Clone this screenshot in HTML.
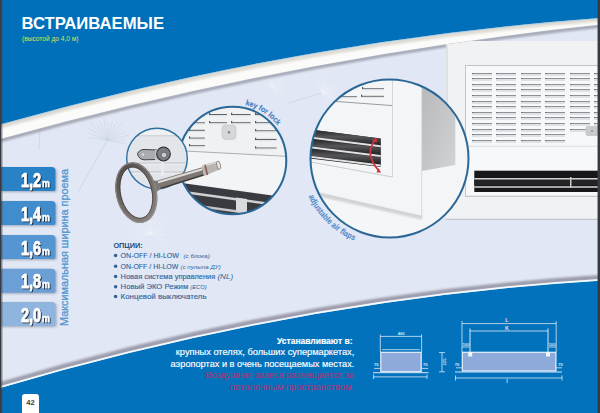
<!DOCTYPE html>
<html><head><meta charset="utf-8">
<style>
html,body{margin:0;padding:0;width:600px;height:413px;overflow:hidden;background:#e2e7f3}
svg{display:block;font-family:"Liberation Sans",sans-serif}
</style></head>
<body>
<svg width="600" height="413" viewBox="0 0 600 413">
<defs>
  <filter id="blur1" x="-10%" y="-50%" width="120%" height="200%"><feGaussianBlur stdDeviation="2"/></filter>
  <filter id="blurS" x="-5%" y="-50%" width="110%" height="200%"><feGaussianBlur stdDeviation="1.3"/></filter>
  <filter id="blur05"><feGaussianBlur stdDeviation="0.5"/></filter>
  <filter id="tsh" x="-20%" y="-20%" width="150%" height="150%"><feDropShadow dx="1" dy="1" stdDeviation="0.5" flood-color="#142236" flood-opacity="0.9"/></filter>
  <filter id="tabsh" x="-10%" y="-20%" width="130%" height="150%"><feDropShadow dx="1.2" dy="1" stdDeviation="0.8" flood-color="#606a80" flood-opacity="0.5"/></filter>
  <linearGradient id="sideGrey" x1="0" y1="0" x2="1" y2="1">
    <stop offset="0" stop-color="#b6b7b9"/><stop offset="1" stop-color="#d2d3d5"/>
  </linearGradient>
  <linearGradient id="keyMetal" x1="0" y1="0" x2="1" y2="1">
    <stop offset="0" stop-color="#8a8a88"/><stop offset="0.5" stop-color="#4a4846"/><stop offset="1" stop-color="#9a9896"/>
  </linearGradient>
  <clipPath id="cR"><circle cx="389.5" cy="158.5" r="79"/></clipPath>
  <clipPath id="cM"><circle cx="232.5" cy="160.5" r="53.8"/></clipPath>
  <clipPath id="cS"><circle cx="157" cy="158" r="30.5"/></clipPath>
  <clipPath id="cP"><rect x="446" y="41" width="154" height="179"/></clipPath>
  <clipPath id="cBelow"><path d="M0,139.5 Q300,56.5 600,25 L600,413 L0,413 Z"/></clipPath>
</defs>

<rect x="0" y="0" width="600" height="413" fill="#e1e7f4"/>
<g stroke="#b9c7de" stroke-width="0.6" opacity="0.8"><line x1="77.7" y1="192.8" x2="107" y2="140.5"/><line x1="289" y1="103" x2="322" y2="92.6"/><line x1="40" y1="128" x2="39" y2="150"/></g>
<g stroke="#bccadf" stroke-width="0.5" fill="none" opacity="0.75">
<line x1="107.0" y1="140.5" x2="89.3" y2="137.4"/>
<line x1="107.0" y1="140.5" x2="88.5" y2="133.0"/>
<line x1="107.0" y1="140.5" x2="88.8" y2="128.2"/>
<line x1="107.0" y1="140.5" x2="90.3" y2="123.2"/>
<line x1="107.0" y1="140.5" x2="96.9" y2="124.4"/>
<line x1="107.0" y1="140.5" x2="99.8" y2="120.8"/>
<line x1="107.0" y1="140.5" x2="103.8" y2="117.7"/>
<line x1="107.0" y1="140.5" x2="108.3" y2="122.5"/>
<line x1="107.0" y1="140.5" x2="112.5" y2="121.3"/>
<line x1="107.0" y1="140.5" x2="117.3" y2="121.1"/>
<line x1="107.0" y1="140.5" x2="122.4" y2="122.1"/>
<line x1="107.0" y1="140.5" x2="122.0" y2="128.8"/>
<line x1="107.0" y1="140.5" x2="125.9" y2="131.3"/>
<line x1="107.0" y1="140.5" x2="129.3" y2="134.9"/>
<line x1="107.0" y1="140.5" x2="125.0" y2="139.9"/>
<line x1="107.0" y1="140.5" x2="126.7" y2="144.0"/>
</g>
<g stroke="#f4f7fc" stroke-width="0.5" fill="none" opacity="0.8">
<line x1="322.0" y1="92.6" x2="316.4" y2="82.9"/>
<line x1="322.0" y1="92.6" x2="319.1" y2="80.5"/>
<line x1="322.0" y1="92.6" x2="322.7" y2="78.9"/>
<line x1="322.0" y1="92.6" x2="326.9" y2="78.4"/>
<line x1="322.0" y1="92.6" x2="328.9" y2="82.9"/>
<line x1="322.0" y1="92.6" x2="332.3" y2="84.5"/>
<line x1="322.0" y1="92.6" x2="335.3" y2="87.3"/>
<line x1="322.0" y1="92.6" x2="333.2" y2="91.5"/>
<line x1="322.0" y1="92.6" x2="334.3" y2="95.0"/>
<line x1="322.0" y1="92.6" x2="334.2" y2="98.9"/>
<line x1="322.0" y1="92.6" x2="332.9" y2="103.0"/>
<line x1="322.0" y1="92.6" x2="327.9" y2="102.9"/>
</g>
<g stroke="#f4f7fc" stroke-width="0.5" fill="none" opacity="0.7">
<line x1="272.0" y1="87.0" x2="262.8" y2="83.7"/>
<line x1="272.0" y1="87.0" x2="263.7" y2="80.0"/>
<line x1="272.0" y1="87.0" x2="266.0" y2="76.7"/>
<line x1="272.0" y1="87.0" x2="269.7" y2="74.2"/>
<line x1="272.0" y1="87.0" x2="273.8" y2="76.9"/>
<line x1="272.0" y1="87.0" x2="277.7" y2="77.1"/>
<line x1="272.0" y1="87.0" x2="281.5" y2="79.0"/>
<line x1="272.0" y1="87.0" x2="281.2" y2="83.7"/>
<line x1="272.0" y1="87.0" x2="282.8" y2="87.0"/>
<line x1="272.0" y1="87.0" x2="283.2" y2="91.1"/>
<line x1="272.0" y1="87.0" x2="282.0" y2="95.4"/>
<line x1="272.0" y1="87.0" x2="277.1" y2="95.9"/>
</g>
<g stroke="#f6f8fc" stroke-width="0.5" fill="none" opacity="0.7">
<line x1="150.0" y1="234.0" x2="137.3" y2="238.6"/>
<line x1="150.0" y1="234.0" x2="135.0" y2="234.8"/>
<line x1="150.0" y1="234.0" x2="134.0" y2="230.1"/>
<line x1="150.0" y1="234.0" x2="134.5" y2="224.8"/>
<line x1="150.0" y1="234.0" x2="140.4" y2="223.5"/>
<line x1="150.0" y1="234.0" x2="143.2" y2="219.8"/>
<line x1="150.0" y1="234.0" x2="147.5" y2="216.9"/>
<line x1="150.0" y1="234.0" x2="152.0" y2="220.6"/>
<line x1="150.0" y1="234.0" x2="156.4" y2="220.4"/>
<line x1="150.0" y1="234.0" x2="161.1" y2="221.8"/>
<line x1="150.0" y1="234.0" x2="165.5" y2="224.8"/>
<line x1="150.0" y1="234.0" x2="163.8" y2="230.6"/>
<line x1="150.0" y1="234.0" x2="165.7" y2="234.8"/>
<line x1="150.0" y1="234.0" x2="166.2" y2="239.9"/>
</g>
<clipPath id="stripeClip"><path d="M0,122 Q300,38 600,16 L600,24.6 Q300,56 0,139 Z"/></clipPath>
<path d="M0,140.5 Q300,57.5 600,26" fill="none" stroke="#8c8d9b" stroke-width="3.5" opacity="0.75" filter="url(#blurS)"/>
<path d="M0,122 Q300,38 600,16 L600,24.6 Q300,56 0,139 Z" fill="#fbfbf9"/>
<g clip-path="url(#stripeClip)"><path d="M0,126.5 Q300,42.5 600,19.5" fill="none" stroke="#cfcac0" stroke-width="4" opacity="0.7" filter="url(#blurS)"/></g>
<path d="M0,0 L600,0 L600,18 Q300,39.7 0,124.6 Z" fill="#0070bb"/>
<path d="M0,125 Q300,40.1 600,18.4" fill="none" stroke="#9cc4e4" stroke-width="0.8" opacity="0.8"/>
<path d="M0,384.7 Q300,295.8 600,277.5" fill="none" stroke="#858394" stroke-width="5" opacity="0.75" filter="url(#blurS)"/>
<path d="M0,387.9 Q300,299 600,280.5 L600,413 L0,413 Z" fill="#0372bd"/>
<path d="M0,387.2 Q300,298.3 600,279.8" fill="none" stroke="#f2faff" stroke-width="1.8"/>
<text x="21.5" y="28.8" font-size="16.5" font-weight="bold" fill="#ffffff" textLength="142.5" lengthAdjust="spacingAndGlyphs">ВСТРАИВАЕМЫЕ</text>
<text x="22" y="41.3" font-size="6.4" fill="#d9e252" textLength="56.5" lengthAdjust="spacingAndGlyphs">(высотой до 4,0 м)</text>
<path d="M0,167 H51.5 Q55.5,167 55.5,171 V189 Q55.5,191 53.5,191 H0 Z" fill="#2a82c6" filter="url(#tabsh)"/>
<g filter="url(#tsh)"><text transform="translate(21,186.6) scale(0.72,1)" font-size="20" font-weight="bold" fill="#ffffff" stroke="#ffffff" stroke-width="0.7">1,2</text><text transform="translate(42,186.6) scale(0.78,1)" font-size="11.2" font-weight="bold" fill="#ffffff" stroke="#ffffff" stroke-width="0.4">m</text></g>
<path d="M0,201 H51.5 Q55.5,201 55.5,205 V223 Q55.5,225 53.5,225 H0 Z" fill="#3f8ccc" filter="url(#tabsh)"/>
<g filter="url(#tsh)"><text transform="translate(21,220.6) scale(0.72,1)" font-size="20" font-weight="bold" fill="#ffffff" stroke="#ffffff" stroke-width="0.7">1,4</text><text transform="translate(42,220.6) scale(0.78,1)" font-size="11.2" font-weight="bold" fill="#ffffff" stroke="#ffffff" stroke-width="0.4">m</text></g>
<path d="M0,235 H51.5 Q55.5,235 55.5,239 V257 Q55.5,259 53.5,259 H0 Z" fill="#5595d2" filter="url(#tabsh)"/>
<g filter="url(#tsh)"><text transform="translate(21,254.6) scale(0.72,1)" font-size="20" font-weight="bold" fill="#ffffff" stroke="#ffffff" stroke-width="0.7">1,6</text><text transform="translate(42,254.6) scale(0.78,1)" font-size="11.2" font-weight="bold" fill="#ffffff" stroke="#ffffff" stroke-width="0.4">m</text></g>
<path d="M0,268.8 H51.5 Q55.5,268.8 55.5,272.8 V290.8 Q55.5,292.8 53.5,292.8 H0 Z" fill="#6c9fd6" filter="url(#tabsh)"/>
<g filter="url(#tsh)"><text transform="translate(21,288.40000000000003) scale(0.72,1)" font-size="20" font-weight="bold" fill="#ffffff" stroke="#ffffff" stroke-width="0.7">1,8</text><text transform="translate(42,288.40000000000003) scale(0.78,1)" font-size="11.2" font-weight="bold" fill="#ffffff" stroke="#ffffff" stroke-width="0.4">m</text></g>
<path d="M0,302 H51.5 Q55.5,302 55.5,306 V324 Q55.5,326 53.5,326 H0 Z" fill="#8fb4de" filter="url(#tabsh)"/>
<g filter="url(#tsh)"><text transform="translate(21,321.6) scale(0.72,1)" font-size="20" font-weight="bold" fill="#ffffff" stroke="#ffffff" stroke-width="0.7">2,0</text><text transform="translate(42,321.6) scale(0.78,1)" font-size="11.2" font-weight="bold" fill="#ffffff" stroke="#ffffff" stroke-width="0.4">m</text></g>
<text transform="translate(67.5,326) rotate(-90)" font-size="10.2" fill="#5597d0" stroke="#5597d0" stroke-width="0.3" textLength="157" lengthAdjust="spacingAndGlyphs">Максимальная ширина проема</text>
<text x="113.4" y="248.4" font-size="6.9" font-weight="bold" fill="#23507f" textLength="29.3" lengthAdjust="spacingAndGlyphs">ОПЦИИ:</text>
<circle cx="115.6" cy="255.39999999999998" r="1.75" fill="#30639a"/>
<text x="120.6" y="257.7" font-size="7.4" fill="#30639a" stroke="#30639a" stroke-width="0.12" textLength="58.4" lengthAdjust="spacingAndGlyphs">ON-OFF / HI-LOW</text>
<text x="183.4" y="257.7" font-size="6.2" font-style="italic" fill="#30639a" textLength="26.4" lengthAdjust="spacingAndGlyphs">(с блока)</text>
<circle cx="115.6" cy="266.2" r="1.75" fill="#30639a"/>
<text x="120.6" y="268.5" font-size="7.4" fill="#30639a" stroke="#30639a" stroke-width="0.12" textLength="57.8" lengthAdjust="spacingAndGlyphs">ON-OFF / HI-LOW</text>
<text x="180.6" y="268.5" font-size="6.2" font-style="italic" fill="#30639a" textLength="40.1" lengthAdjust="spacingAndGlyphs">(с пульта ДУ)</text>
<circle cx="115.6" cy="276.4" r="1.75" fill="#30639a"/>
<text x="120.6" y="278.7" font-size="7.4" fill="#30639a" stroke="#30639a" stroke-width="0.12" textLength="94.7" lengthAdjust="spacingAndGlyphs">Новая система управления</text>
<text x="217.4" y="278.7" font-size="7.0" font-style="italic" fill="#30639a" textLength="15.8" lengthAdjust="spacingAndGlyphs">(NL)</text>
<circle cx="115.6" cy="286.7" r="1.75" fill="#30639a"/>
<text x="120.6" y="289.0" font-size="7.4" fill="#30639a" stroke="#30639a" stroke-width="0.12" textLength="67.6" lengthAdjust="spacingAndGlyphs">Новый ЭКО Режим</text>
<text x="190.3" y="289.0" font-size="6.2" font-style="italic" fill="#30639a" textLength="16.3" lengthAdjust="spacingAndGlyphs">(ECO)</text>
<circle cx="115.6" cy="296.5" r="1.75" fill="#30639a"/>
<text x="120.6" y="298.8" font-size="7.4" fill="#30639a" stroke="#30639a" stroke-width="0.12" textLength="86.0" lengthAdjust="spacingAndGlyphs">Концевой выключатель</text>
<text x="277" y="343.9" font-size="9.2" font-weight="bold" fill="#ffffff" stroke="#ffffff" stroke-width="0.15" textLength="75.5" lengthAdjust="spacingAndGlyphs">Устанавливают в:</text>
<text x="175.8" y="355.3" font-size="9.2" fill="#ffffff" stroke="#ffffff" stroke-width="0.15" textLength="178.5" lengthAdjust="spacingAndGlyphs">крупных отелях, больших супермаркетах,</text>
<text x="170.5" y="366.5" font-size="9.2" fill="#ffffff" stroke="#ffffff" stroke-width="0.15" textLength="183.8" lengthAdjust="spacingAndGlyphs">аэропортах и в очень посещаемых местах.</text>
<text x="205.5" y="378.2" font-size="9.2" fill="#a03a7a" stroke="#a03a7a" stroke-width="0.15" textLength="148.5" lengthAdjust="spacingAndGlyphs">Воздушная завеса размещается за</text>
<text x="230.0" y="389.6" font-size="9.2" fill="#a03a7a" stroke="#a03a7a" stroke-width="0.15" textLength="124.0" lengthAdjust="spacingAndGlyphs">потолочным пространством.</text>
<path d="M22,413 V397 Q22,394 25,394 H36 Q39,394 39,397 V413 Z" fill="#ffffff"/>
<text x="30.5" y="405" font-size="7.5" font-weight="bold" fill="#3a3a3a" text-anchor="middle">42</text>
<g stroke="#d8e8f6" stroke-width="0.8" fill="none">
<rect x="380.8" y="352.3" width="40.4" height="19.4" fill="#8eaadb" stroke="#e8f2fa" stroke-width="1.2"/>
<line x1="380.3" y1="334.5" x2="380.3" y2="352"/><line x1="421.6" y1="334.5" x2="421.6" y2="352"/>
<line x1="380.3" y1="336.4" x2="421.6" y2="336.4"/>
<line x1="382" y1="349.7" x2="420" y2="349.7"/>
<line x1="373" y1="372.7" x2="428.5" y2="372.7" stroke-width="1"/>
<line x1="373.5" y1="376.9" x2="427" y2="376.9"/><line x1="373.5" y1="374.5" x2="373.5" y2="379"/><line x1="427" y1="374.5" x2="427" y2="379"/>
<line x1="374" y1="368.4" x2="380" y2="368.4"/><line x1="422" y1="368.4" x2="428" y2="368.4"/>
<line x1="442" y1="352.6" x2="442" y2="371.8"/><line x1="439" y1="352.6" x2="445" y2="352.6"/><line x1="439" y1="371.8" x2="445" y2="371.8"/>
<rect x="462.3" y="352.3" width="93.6" height="18.7" fill="#8eaadb" stroke="#e8f2fa" stroke-width="1.2"/>
<line x1="462" y1="321" x2="462" y2="352"/><line x1="556.2" y1="321" x2="556.2" y2="352"/>
<line x1="462" y1="323.6" x2="556.2" y2="323.6"/>
<line x1="470" y1="331" x2="548" y2="331"/>
<line x1="470" y1="328.5" x2="470" y2="352" stroke-width="1"/><line x1="548" y1="328.5" x2="548" y2="352" stroke-width="1"/>
<line x1="455" y1="372" x2="562" y2="372" stroke-width="1"/>
<line x1="455.5" y1="378" x2="562" y2="378"/><line x1="455.5" y1="375.5" x2="455.5" y2="380.5"/><line x1="562" y1="375.5" x2="562" y2="380.5"/>
<line x1="456" y1="367.8" x2="462" y2="367.8"/><line x1="556" y1="367.8" x2="562" y2="367.8"/>
<line x1="462" y1="347" x2="469" y2="347"/><line x1="549" y1="347" x2="556" y2="347"/>
</g>
<g fill="#eef6fc">
<rect x="468.2" y="352" width="4" height="4.5"/><rect x="546" y="352" width="4" height="4.5"/>
</g>
<g fill="#d8e8f6" font-size="4.2" font-weight="bold" text-anchor="middle">
<text x="401.2" y="335">460</text>
<text x="376.3" y="366.3">70</text><text x="425.3" y="366.3">70</text>
<text transform="translate(445.5,362) rotate(-90)">225</text>
<text x="507" y="322" font-size="5.5">L</text><text x="507" y="329.5" font-size="5.5">K</text>
<text x="466" y="345.5">100</text><text x="552" y="345.5">100</text>
<text x="457" y="366">70</text><text x="560.5" y="366">70</text>
<text x="507" y="382.5" font-size="5.5">l</text>
</g>
<g clip-path="url(#cBelow)"><g clip-path="url(#cP)">
<rect x="446" y="41" width="154" height="179" fill="#f1f2f4"/>
<rect x="446" y="41" width="2" height="179" fill="#dfe1e5"/>
<rect x="446" y="200" width="152" height="20" fill="#f1f2f4"/>
<line x1="446" y1="219.3" x2="598" y2="219.3" stroke="#c4c6cc" stroke-width="1.2"/>
<rect x="465.5" y="65.5" width="140" height="131" fill="#f7f8f9" stroke="#c2c4c9" stroke-width="1"/>
<line x1="465.3" y1="146.3" x2="600" y2="146.3" stroke="#d4d6da" stroke-width="0.8"/>
<rect x="472" y="73" width="20" height="1" fill="#8d9299"/>
<rect x="472" y="73" width="1.5" height="2" fill="#6d7278"/>
<rect x="472" y="74" width="20" height="2" fill="#dfe1e5"/>
<rect x="472" y="78" width="20" height="1" fill="#8d9299"/>
<rect x="472" y="78" width="1.5" height="2" fill="#6d7278"/>
<rect x="472" y="79" width="20" height="2" fill="#dfe1e5"/>
<rect x="472" y="84" width="20" height="1" fill="#8d9299"/>
<rect x="472" y="84" width="1.5" height="2" fill="#6d7278"/>
<rect x="472" y="85" width="20" height="2" fill="#dfe1e5"/>
<rect x="472" y="89" width="20" height="1" fill="#8d9299"/>
<rect x="472" y="89" width="1.5" height="2" fill="#6d7278"/>
<rect x="472" y="90" width="20" height="2" fill="#dfe1e5"/>
<rect x="472" y="95" width="20" height="1" fill="#8d9299"/>
<rect x="472" y="95" width="1.5" height="2" fill="#6d7278"/>
<rect x="472" y="96" width="20" height="2" fill="#dfe1e5"/>
<rect x="472" y="101" width="20" height="1" fill="#8d9299"/>
<rect x="472" y="101" width="1.5" height="2" fill="#6d7278"/>
<rect x="472" y="102" width="20" height="2" fill="#dfe1e5"/>
<rect x="472" y="106" width="20" height="1" fill="#8d9299"/>
<rect x="472" y="106" width="1.5" height="2" fill="#6d7278"/>
<rect x="472" y="107" width="20" height="2" fill="#dfe1e5"/>
<rect x="472" y="112" width="20" height="1" fill="#8d9299"/>
<rect x="472" y="112" width="1.5" height="2" fill="#6d7278"/>
<rect x="472" y="113" width="20" height="2" fill="#dfe1e5"/>
<rect x="472" y="117" width="20" height="1" fill="#8d9299"/>
<rect x="472" y="117" width="1.5" height="2" fill="#6d7278"/>
<rect x="472" y="118" width="20" height="2" fill="#dfe1e5"/>
<rect x="472" y="123" width="20" height="1" fill="#8d9299"/>
<rect x="472" y="123" width="1.5" height="2" fill="#6d7278"/>
<rect x="472" y="124" width="20" height="2" fill="#dfe1e5"/>
<rect x="472" y="129" width="20" height="1" fill="#8d9299"/>
<rect x="472" y="129" width="1.5" height="2" fill="#6d7278"/>
<rect x="472" y="130" width="20" height="2" fill="#dfe1e5"/>
<rect x="472" y="134" width="20" height="1" fill="#8d9299"/>
<rect x="472" y="134" width="1.5" height="2" fill="#6d7278"/>
<rect x="472" y="135" width="20" height="2" fill="#dfe1e5"/>
<rect x="472" y="140" width="20" height="1" fill="#8d9299"/>
<rect x="472" y="140" width="1.5" height="2" fill="#6d7278"/>
<rect x="472" y="141" width="20" height="2" fill="#dfe1e5"/>
<rect x="496" y="73" width="20" height="1" fill="#8d9299"/>
<rect x="496" y="73" width="1.5" height="2" fill="#6d7278"/>
<rect x="496" y="74" width="20" height="2" fill="#dfe1e5"/>
<rect x="496" y="78" width="20" height="1" fill="#8d9299"/>
<rect x="496" y="78" width="1.5" height="2" fill="#6d7278"/>
<rect x="496" y="79" width="20" height="2" fill="#dfe1e5"/>
<rect x="496" y="84" width="20" height="1" fill="#8d9299"/>
<rect x="496" y="84" width="1.5" height="2" fill="#6d7278"/>
<rect x="496" y="85" width="20" height="2" fill="#dfe1e5"/>
<rect x="496" y="89" width="20" height="1" fill="#8d9299"/>
<rect x="496" y="89" width="1.5" height="2" fill="#6d7278"/>
<rect x="496" y="90" width="20" height="2" fill="#dfe1e5"/>
<rect x="496" y="95" width="20" height="1" fill="#8d9299"/>
<rect x="496" y="95" width="1.5" height="2" fill="#6d7278"/>
<rect x="496" y="96" width="20" height="2" fill="#dfe1e5"/>
<rect x="496" y="101" width="20" height="1" fill="#8d9299"/>
<rect x="496" y="101" width="1.5" height="2" fill="#6d7278"/>
<rect x="496" y="102" width="20" height="2" fill="#dfe1e5"/>
<rect x="496" y="106" width="20" height="1" fill="#8d9299"/>
<rect x="496" y="106" width="1.5" height="2" fill="#6d7278"/>
<rect x="496" y="107" width="20" height="2" fill="#dfe1e5"/>
<rect x="496" y="112" width="20" height="1" fill="#8d9299"/>
<rect x="496" y="112" width="1.5" height="2" fill="#6d7278"/>
<rect x="496" y="113" width="20" height="2" fill="#dfe1e5"/>
<rect x="496" y="117" width="20" height="1" fill="#8d9299"/>
<rect x="496" y="117" width="1.5" height="2" fill="#6d7278"/>
<rect x="496" y="118" width="20" height="2" fill="#dfe1e5"/>
<rect x="496" y="123" width="20" height="1" fill="#8d9299"/>
<rect x="496" y="123" width="1.5" height="2" fill="#6d7278"/>
<rect x="496" y="124" width="20" height="2" fill="#dfe1e5"/>
<rect x="496" y="129" width="20" height="1" fill="#8d9299"/>
<rect x="496" y="129" width="1.5" height="2" fill="#6d7278"/>
<rect x="496" y="130" width="20" height="2" fill="#dfe1e5"/>
<rect x="496" y="134" width="20" height="1" fill="#8d9299"/>
<rect x="496" y="134" width="1.5" height="2" fill="#6d7278"/>
<rect x="496" y="135" width="20" height="2" fill="#dfe1e5"/>
<rect x="496" y="140" width="20" height="1" fill="#8d9299"/>
<rect x="496" y="140" width="1.5" height="2" fill="#6d7278"/>
<rect x="496" y="141" width="20" height="2" fill="#dfe1e5"/>
<rect x="521" y="73" width="20" height="1" fill="#8d9299"/>
<rect x="521" y="73" width="1.5" height="2" fill="#6d7278"/>
<rect x="521" y="74" width="20" height="2" fill="#dfe1e5"/>
<rect x="521" y="78" width="20" height="1" fill="#8d9299"/>
<rect x="521" y="78" width="1.5" height="2" fill="#6d7278"/>
<rect x="521" y="79" width="20" height="2" fill="#dfe1e5"/>
<rect x="521" y="84" width="20" height="1" fill="#8d9299"/>
<rect x="521" y="84" width="1.5" height="2" fill="#6d7278"/>
<rect x="521" y="85" width="20" height="2" fill="#dfe1e5"/>
<rect x="521" y="89" width="20" height="1" fill="#8d9299"/>
<rect x="521" y="89" width="1.5" height="2" fill="#6d7278"/>
<rect x="521" y="90" width="20" height="2" fill="#dfe1e5"/>
<rect x="521" y="95" width="20" height="1" fill="#8d9299"/>
<rect x="521" y="95" width="1.5" height="2" fill="#6d7278"/>
<rect x="521" y="96" width="20" height="2" fill="#dfe1e5"/>
<rect x="521" y="101" width="20" height="1" fill="#8d9299"/>
<rect x="521" y="101" width="1.5" height="2" fill="#6d7278"/>
<rect x="521" y="102" width="20" height="2" fill="#dfe1e5"/>
<rect x="521" y="106" width="20" height="1" fill="#8d9299"/>
<rect x="521" y="106" width="1.5" height="2" fill="#6d7278"/>
<rect x="521" y="107" width="20" height="2" fill="#dfe1e5"/>
<rect x="521" y="112" width="20" height="1" fill="#8d9299"/>
<rect x="521" y="112" width="1.5" height="2" fill="#6d7278"/>
<rect x="521" y="113" width="20" height="2" fill="#dfe1e5"/>
<rect x="521" y="117" width="20" height="1" fill="#8d9299"/>
<rect x="521" y="117" width="1.5" height="2" fill="#6d7278"/>
<rect x="521" y="118" width="20" height="2" fill="#dfe1e5"/>
<rect x="521" y="123" width="20" height="1" fill="#8d9299"/>
<rect x="521" y="123" width="1.5" height="2" fill="#6d7278"/>
<rect x="521" y="124" width="20" height="2" fill="#dfe1e5"/>
<rect x="521" y="129" width="20" height="1" fill="#8d9299"/>
<rect x="521" y="129" width="1.5" height="2" fill="#6d7278"/>
<rect x="521" y="130" width="20" height="2" fill="#dfe1e5"/>
<rect x="521" y="134" width="20" height="1" fill="#8d9299"/>
<rect x="521" y="134" width="1.5" height="2" fill="#6d7278"/>
<rect x="521" y="135" width="20" height="2" fill="#dfe1e5"/>
<rect x="521" y="140" width="20" height="1" fill="#8d9299"/>
<rect x="521" y="140" width="1.5" height="2" fill="#6d7278"/>
<rect x="521" y="141" width="20" height="2" fill="#dfe1e5"/>
<rect x="545" y="73" width="20" height="1" fill="#8d9299"/>
<rect x="545" y="73" width="1.5" height="2" fill="#6d7278"/>
<rect x="545" y="74" width="20" height="2" fill="#dfe1e5"/>
<rect x="545" y="78" width="20" height="1" fill="#8d9299"/>
<rect x="545" y="78" width="1.5" height="2" fill="#6d7278"/>
<rect x="545" y="79" width="20" height="2" fill="#dfe1e5"/>
<rect x="545" y="84" width="20" height="1" fill="#8d9299"/>
<rect x="545" y="84" width="1.5" height="2" fill="#6d7278"/>
<rect x="545" y="85" width="20" height="2" fill="#dfe1e5"/>
<rect x="545" y="89" width="20" height="1" fill="#8d9299"/>
<rect x="545" y="89" width="1.5" height="2" fill="#6d7278"/>
<rect x="545" y="90" width="20" height="2" fill="#dfe1e5"/>
<rect x="545" y="95" width="20" height="1" fill="#8d9299"/>
<rect x="545" y="95" width="1.5" height="2" fill="#6d7278"/>
<rect x="545" y="96" width="20" height="2" fill="#dfe1e5"/>
<rect x="545" y="101" width="20" height="1" fill="#8d9299"/>
<rect x="545" y="101" width="1.5" height="2" fill="#6d7278"/>
<rect x="545" y="102" width="20" height="2" fill="#dfe1e5"/>
<rect x="545" y="106" width="20" height="1" fill="#8d9299"/>
<rect x="545" y="106" width="1.5" height="2" fill="#6d7278"/>
<rect x="545" y="107" width="20" height="2" fill="#dfe1e5"/>
<rect x="545" y="112" width="20" height="1" fill="#8d9299"/>
<rect x="545" y="112" width="1.5" height="2" fill="#6d7278"/>
<rect x="545" y="113" width="20" height="2" fill="#dfe1e5"/>
<rect x="545" y="117" width="20" height="1" fill="#8d9299"/>
<rect x="545" y="117" width="1.5" height="2" fill="#6d7278"/>
<rect x="545" y="118" width="20" height="2" fill="#dfe1e5"/>
<rect x="545" y="123" width="20" height="1" fill="#8d9299"/>
<rect x="545" y="123" width="1.5" height="2" fill="#6d7278"/>
<rect x="545" y="124" width="20" height="2" fill="#dfe1e5"/>
<rect x="545" y="129" width="20" height="1" fill="#8d9299"/>
<rect x="545" y="129" width="1.5" height="2" fill="#6d7278"/>
<rect x="545" y="130" width="20" height="2" fill="#dfe1e5"/>
<rect x="545" y="134" width="20" height="1" fill="#8d9299"/>
<rect x="545" y="134" width="1.5" height="2" fill="#6d7278"/>
<rect x="545" y="135" width="20" height="2" fill="#dfe1e5"/>
<rect x="545" y="140" width="20" height="1" fill="#8d9299"/>
<rect x="545" y="140" width="1.5" height="2" fill="#6d7278"/>
<rect x="545" y="141" width="20" height="2" fill="#dfe1e5"/>
<rect x="570" y="73" width="20" height="1" fill="#8d9299"/>
<rect x="570" y="73" width="1.5" height="2" fill="#6d7278"/>
<rect x="570" y="74" width="20" height="2" fill="#dfe1e5"/>
<rect x="570" y="78" width="20" height="1" fill="#8d9299"/>
<rect x="570" y="78" width="1.5" height="2" fill="#6d7278"/>
<rect x="570" y="79" width="20" height="2" fill="#dfe1e5"/>
<rect x="570" y="84" width="20" height="1" fill="#8d9299"/>
<rect x="570" y="84" width="1.5" height="2" fill="#6d7278"/>
<rect x="570" y="85" width="20" height="2" fill="#dfe1e5"/>
<rect x="570" y="89" width="20" height="1" fill="#8d9299"/>
<rect x="570" y="89" width="1.5" height="2" fill="#6d7278"/>
<rect x="570" y="90" width="20" height="2" fill="#dfe1e5"/>
<rect x="570" y="95" width="20" height="1" fill="#8d9299"/>
<rect x="570" y="95" width="1.5" height="2" fill="#6d7278"/>
<rect x="570" y="96" width="20" height="2" fill="#dfe1e5"/>
<rect x="570" y="101" width="20" height="1" fill="#8d9299"/>
<rect x="570" y="101" width="1.5" height="2" fill="#6d7278"/>
<rect x="570" y="102" width="20" height="2" fill="#dfe1e5"/>
<rect x="570" y="106" width="20" height="1" fill="#8d9299"/>
<rect x="570" y="106" width="1.5" height="2" fill="#6d7278"/>
<rect x="570" y="107" width="20" height="2" fill="#dfe1e5"/>
<rect x="570" y="112" width="20" height="1" fill="#8d9299"/>
<rect x="570" y="112" width="1.5" height="2" fill="#6d7278"/>
<rect x="570" y="113" width="20" height="2" fill="#dfe1e5"/>
<rect x="570" y="117" width="20" height="1" fill="#8d9299"/>
<rect x="570" y="117" width="1.5" height="2" fill="#6d7278"/>
<rect x="570" y="118" width="20" height="2" fill="#dfe1e5"/>
<rect x="570" y="123" width="20" height="1" fill="#8d9299"/>
<rect x="570" y="123" width="1.5" height="2" fill="#6d7278"/>
<rect x="570" y="124" width="20" height="2" fill="#dfe1e5"/>
<rect x="570" y="129" width="20" height="1" fill="#8d9299"/>
<rect x="570" y="129" width="1.5" height="2" fill="#6d7278"/>
<rect x="570" y="130" width="20" height="2" fill="#dfe1e5"/>
<rect x="594" y="73" width="20" height="1" fill="#8d9299"/>
<rect x="594" y="73" width="1.5" height="2" fill="#6d7278"/>
<rect x="594" y="74" width="20" height="2" fill="#dfe1e5"/>
<rect x="594" y="78" width="20" height="1" fill="#8d9299"/>
<rect x="594" y="78" width="1.5" height="2" fill="#6d7278"/>
<rect x="594" y="79" width="20" height="2" fill="#dfe1e5"/>
<rect x="594" y="84" width="20" height="1" fill="#8d9299"/>
<rect x="594" y="84" width="1.5" height="2" fill="#6d7278"/>
<rect x="594" y="85" width="20" height="2" fill="#dfe1e5"/>
<rect x="594" y="89" width="20" height="1" fill="#8d9299"/>
<rect x="594" y="89" width="1.5" height="2" fill="#6d7278"/>
<rect x="594" y="90" width="20" height="2" fill="#dfe1e5"/>
<rect x="594" y="95" width="20" height="1" fill="#8d9299"/>
<rect x="594" y="95" width="1.5" height="2" fill="#6d7278"/>
<rect x="594" y="96" width="20" height="2" fill="#dfe1e5"/>
<rect x="594" y="101" width="20" height="1" fill="#8d9299"/>
<rect x="594" y="101" width="1.5" height="2" fill="#6d7278"/>
<rect x="594" y="102" width="20" height="2" fill="#dfe1e5"/>
<rect x="594" y="106" width="20" height="1" fill="#8d9299"/>
<rect x="594" y="106" width="1.5" height="2" fill="#6d7278"/>
<rect x="594" y="107" width="20" height="2" fill="#dfe1e5"/>
<rect x="594" y="112" width="20" height="1" fill="#8d9299"/>
<rect x="594" y="112" width="1.5" height="2" fill="#6d7278"/>
<rect x="594" y="113" width="20" height="2" fill="#dfe1e5"/>
<rect x="594" y="117" width="20" height="1" fill="#8d9299"/>
<rect x="594" y="117" width="1.5" height="2" fill="#6d7278"/>
<rect x="594" y="118" width="20" height="2" fill="#dfe1e5"/>
<rect x="594" y="123" width="20" height="1" fill="#8d9299"/>
<rect x="594" y="123" width="1.5" height="2" fill="#6d7278"/>
<rect x="594" y="124" width="20" height="2" fill="#dfe1e5"/>
<rect x="585.5" y="126" width="15" height="10" rx="2.5" fill="#c8cacd"/>
<circle cx="592" cy="131" r="1" fill="#8a8c90"/>
<rect x="474.3" y="170.7" width="126" height="21.3" fill="#18181a"/>
<rect x="474.3" y="179" width="126" height="6" fill="#242426"/>
<rect x="474.3" y="178" width="126" height="1.5" fill="#d2d2d2"/>
<rect x="474.3" y="186.2" width="126" height="1.6" fill="#cacaca"/>
<rect x="570" y="177" width="1.5" height="11" fill="#c8c8c8"/>
<line x1="465.3" y1="196" x2="600" y2="196" stroke="#cfd1d5" stroke-width="0.8"/>
</g></g>
<g clip-path="url(#cR)">
<rect x="300" y="70" width="180" height="180" fill="#f4f5f6"/>
<path d="M421.9,80 L455.3,80 L455.3,165 L421.9,171 Z" fill="url(#sideGrey)"/>
<line x1="421.7" y1="85" x2="421.7" y2="216" stroke="#d8dadd" stroke-width="1"/>
<path d="M300,189 L422,216.5 L422,250 L300,250 Z" fill="#f5f6f8"/>
<path d="M300,190.5 L422,218" stroke="#a9abb0" stroke-width="2.5" opacity="0.6" filter="url(#blurS)"/>
<path d="M300,189 L422,216.5" stroke="#c6c8cc" stroke-width="0.8"/>
<path d="M423.5,170 L423.5,217" stroke="#b8babe" stroke-width="2.5" opacity="0.6" filter="url(#blurS)"/>
<line x1="300" y1="98.8" x2="392.5" y2="105.6" stroke="#8e9197" stroke-width="0.9"/>
<line x1="392.5" y1="80" x2="392.5" y2="177" stroke="#d0d2d6" stroke-width="0.9"/>
<line x1="300" y1="160" x2="392.5" y2="177" stroke="#c4c6ca" stroke-width="0.9"/>
<rect x="362" y="88.2" width="22" height="1.1" fill="#6a6f76"/><rect x="362" y="86.9" width="1.2" height="2.4" fill="#5a5f66"/><rect x="362" y="89.3" width="22" height="1.2" fill="#e4e6e9"/>
<rect x="361" y="95.8" width="23" height="1.1" fill="#6a6f76"/><rect x="361" y="94.5" width="1.2" height="2.4" fill="#5a5f66"/><rect x="361" y="96.89999999999999" width="23" height="1.2" fill="#e4e6e9"/>
<rect x="340" y="96.2" width="17" height="1.1" fill="#6a6f76"/><rect x="340" y="94.9" width="1.2" height="2.4" fill="#5a5f66"/><rect x="340" y="97.3" width="17" height="1.2" fill="#e4e6e9"/>
<linearGradient id="barG" x1="0" y1="0" x2="0" y2="1"><stop offset="0" stop-color="#1a1a1c"/><stop offset="0.5" stop-color="#55565a"/><stop offset="1" stop-color="#1e1e20"/></linearGradient>
<path d="M300,128.3 L380.6,138.6 L380.6,167 L300,157.4 Z" fill="#1e1e20"/>
<path d="M300,128.3 L380.6,138.60000000000002 L380.6,145.40000000000003 L300,135.10000000000002 Z" fill="url(#barG)"/>
<path d="M300,137.5 L380.6,147.8 L380.6,155.0 L300,144.7 Z" fill="url(#barG)"/>
<path d="M300,147.0 L380.6,157.3 L380.6,164.5 L300,154.2 Z" fill="url(#barG)"/>
<path d="M300,135.3 L380.6,145.3 L380.6,147.3 L300,137.3 Z" fill="#e2e2e2"/>
<path d="M300,144.9 L380.6,154.9 L380.6,156.9 L300,146.9 Z" fill="#e2e2e2"/>
<path d="M300,154.4 L380.6,164.4 L380.6,166.4 L300,156.4 Z" fill="#e2e2e2"/>
<path d="M375,140 Q364,154 379,171" fill="none" stroke="#d4313e" stroke-width="1.7"/>
<path d="M372,140.5 L376.5,137.5 L377,142.5 Z" fill="#d4313e"/><path d="M376.5,172.5 L381,172.5 L378.5,168 Z" fill="#d4313e"/>
</g>
<circle cx="389.5" cy="158.5" r="79" fill="none" stroke="#2a6796" stroke-width="2"/>
<g clip-path="url(#cM)">
<rect x="175" y="100" width="115" height="120" fill="#f0f1f3"/>
<rect x="189" y="114.5" width="16.0" height="1.1" fill="#5f646b"/>
<rect x="189" y="113.3" width="1.2" height="2.3" fill="#55595f"/>
<rect x="189" y="115.6" width="16.0" height="1.2" fill="#e2e4e7"/>
<rect x="189" y="122.3" width="16.0" height="1.1" fill="#5f646b"/>
<rect x="189" y="121.1" width="1.2" height="2.3" fill="#55595f"/>
<rect x="189" y="123.39999999999999" width="16.0" height="1.2" fill="#e2e4e7"/>
<rect x="189" y="129.8" width="16.0" height="1.1" fill="#5f646b"/>
<rect x="189" y="128.60000000000002" width="1.2" height="2.3" fill="#55595f"/>
<rect x="189" y="130.9" width="16.0" height="1.2" fill="#e2e4e7"/>
<rect x="189" y="137.6" width="16.0" height="1.1" fill="#5f646b"/>
<rect x="189" y="136.4" width="1.2" height="2.3" fill="#55595f"/>
<rect x="189" y="138.7" width="16.0" height="1.2" fill="#e2e4e7"/>
<rect x="189" y="145.2" width="16.0" height="1.1" fill="#5f646b"/>
<rect x="189" y="144.0" width="1.2" height="2.3" fill="#55595f"/>
<rect x="189" y="146.29999999999998" width="16.0" height="1.2" fill="#e2e4e7"/>
<rect x="209" y="114" width="18.0" height="1.1" fill="#5f646b"/>
<rect x="209" y="112.8" width="1.2" height="2.3" fill="#55595f"/>
<rect x="209" y="115.1" width="18.0" height="1.2" fill="#e2e4e7"/>
<rect x="209" y="122.2" width="18.0" height="1.1" fill="#5f646b"/>
<rect x="209" y="121.0" width="1.2" height="2.3" fill="#55595f"/>
<rect x="209" y="123.3" width="18.0" height="1.2" fill="#e2e4e7"/>
<rect x="231" y="114" width="19.6" height="1.1" fill="#5f646b"/>
<rect x="231" y="112.8" width="1.2" height="2.3" fill="#55595f"/>
<rect x="231" y="115.1" width="19.6" height="1.2" fill="#e2e4e7"/>
<rect x="231" y="122.2" width="19.6" height="1.1" fill="#5f646b"/>
<rect x="231" y="121.0" width="1.2" height="2.3" fill="#55595f"/>
<rect x="231" y="123.3" width="19.6" height="1.2" fill="#e2e4e7"/>
<rect x="255" y="114" width="21.5" height="1.1" fill="#5f646b"/>
<rect x="255" y="112.8" width="1.2" height="2.3" fill="#55595f"/>
<rect x="255" y="115.1" width="21.5" height="1.2" fill="#e2e4e7"/>
<rect x="255" y="122.2" width="21.5" height="1.1" fill="#5f646b"/>
<rect x="255" y="121.0" width="1.2" height="2.3" fill="#55595f"/>
<rect x="255" y="123.3" width="21.5" height="1.2" fill="#e2e4e7"/>
<rect x="255" y="130.3" width="21.5" height="1.1" fill="#5f646b"/>
<rect x="255" y="129.10000000000002" width="1.2" height="2.3" fill="#55595f"/>
<rect x="255" y="131.4" width="21.5" height="1.2" fill="#e2e4e7"/>
<rect x="255" y="138.9" width="21.5" height="1.1" fill="#5f646b"/>
<rect x="255" y="137.70000000000002" width="1.2" height="2.3" fill="#55595f"/>
<rect x="255" y="140.0" width="21.5" height="1.2" fill="#e2e4e7"/>
<rect x="255" y="147.5" width="21.5" height="1.1" fill="#5f646b"/>
<rect x="255" y="146.3" width="1.2" height="2.3" fill="#55595f"/>
<rect x="255" y="148.6" width="21.5" height="1.2" fill="#e2e4e7"/>
<rect x="222" y="125" width="14" height="14.4" rx="3.5" fill="#d5d7da" stroke="#c0c3c7" stroke-width="0.6"/>
<circle cx="229" cy="132.2" r="1.2" fill="#7d8086"/>
<line x1="175" y1="150.5" x2="290" y2="156.5" stroke="#a3a6ab" stroke-width="0.9"/>
<path d="M175,151.5 L290,157.5 L290,197 L175,181 Z" fill="#f3f4f5"/>
<path d="M175,182 L290,198 L290,230 L175,230 Z" fill="#3a3b40"/>
<path d="M175,189.5 L290,205.5 L290,208 L175,192 Z" fill="#d0d1d3"/>
<path d="M175,201.5 L290,217.5 L290,220 L175,204 Z" fill="#c4c5c7"/>
<path d="M175,210 L290,226 L290,232 L175,232 Z" fill="#b9bbbf"/>
<path d="M236,197.5 L247,199 L247,213 L236,211.5 Z" fill="#d9dadc"/>
</g>
<circle cx="232.5" cy="160.5" r="53.8" fill="none" stroke="#2a6796" stroke-width="2"/>
<g clip-path="url(#cS)">
<rect x="120" y="120" width="75" height="75" fill="#e2e5e9"/>
<rect x="120" y="120" width="75" height="15" fill="#eef0f3"/>
<rect x="120" y="135" width="75" height="1.5" fill="#d2d5da"/>
<rect x="120" y="162.5" width="75" height="2" fill="#f2f3f5"/>
<rect x="120" y="171.5" width="75" height="2" fill="#f2f3f5"/>
<line x1="120" y1="163" x2="195" y2="163" stroke="#a3a8ae" stroke-width="0.7"/>
<line x1="120" y1="172" x2="195" y2="172" stroke="#a3a8ae" stroke-width="0.7"/>
<rect x="161" y="162" width="3" height="14" fill="#e8eaec"/>
<path d="M137.5,154 Q139,149.5 144,149.5 L157,150 L157,159.5 L144,159.8 Q139,159.5 137.5,154 Z" fill="#a9adb2" stroke="#3e4146" stroke-width="1"/>
<circle cx="143" cy="154.6" r="1.3" fill="#d8dadd"/>
<rect x="155" y="150" width="4" height="10" fill="#c0c3c7"/>
<circle cx="163.5" cy="154" r="6.8" fill="#7b7f85" stroke="#34373c" stroke-width="1.2"/>
<circle cx="164" cy="155" r="2.8" fill="#c9ccd0" stroke="#44474c" stroke-width="0.6"/>
</g>
<circle cx="157" cy="158.5" r="30.3" fill="none" stroke="#2d6e9e" stroke-width="1.4"/>
<g>
<path d="M149,178 Q154,182 158.3,180.3 L202.3,167.2 L204,175.8 L160,189.5 Q155,192 153,197 Z" fill="#7d7874"/>
<path d="M158,182.3 L202.5,169.2" stroke="#dedad6" stroke-width="2.2"/>
<path d="M160.5,188.3 L203.5,174.8" stroke="#3e3a37" stroke-width="1.4"/>
<path d="M202,165.2 L217.6,161.3 L219.6,169.4 L204,176 Z" fill="#b9b5b1"/>
<path d="M202.5,166 L217.8,162.3" stroke="#e6e3e0" stroke-width="1"/>
<path d="M205,165 L207.5,175" stroke="#8a5a58" stroke-width="1.6"/>
<ellipse cx="218.6" cy="165.3" rx="1.9" ry="4.3" fill="#e4e1de" stroke="#6a6562" stroke-width="0.6" transform="rotate(-14 218.6 165.3)"/>
<linearGradient id="ringG" gradientUnits="userSpaceOnUse" x1="115" y1="165" x2="158" y2="222"><stop offset="0" stop-color="#4c4542"/><stop offset="0.45" stop-color="#6e6864"/><stop offset="1" stop-color="#8f8985"/></linearGradient>
<ellipse cx="136.3" cy="192.7" rx="18" ry="28.3" fill="none" stroke="url(#ringG)" stroke-width="5" transform="rotate(-13 136.3 192.7)"/>
<ellipse cx="136.3" cy="192.7" rx="19.8" ry="30.1" fill="none" stroke="#a29c98" stroke-width="0.8" opacity="0.8" transform="rotate(-13 136.3 192.7)"/>
<ellipse cx="136.3" cy="192.7" rx="15.7" ry="26" fill="none" stroke="#3a3633" stroke-width="0.7" transform="rotate(-13 136.3 192.7)"/>
</g>
<defs><path id="pKey" d="M 245.2,104.95 A 57 57 0 0 1 285,138"/><path id="pAdj" d="M 308.4,196.3 A 89.5 89.5 0 0 0 360,243"/></defs>
<text font-size="7.8" font-weight="bold" fill="#3c7cbe" stroke="#3c7cbe" stroke-width="0.1"><textPath href="#pKey" textLength="39" lengthAdjust="spacingAndGlyphs">key for lock</textPath></text>
<text font-size="8.6" font-weight="bold" fill="#4a88c8"><textPath href="#pAdj" textLength="65" lengthAdjust="spacingAndGlyphs">adjustable air flaps</textPath></text>
<rect x="0" y="0" width="1.3" height="413" fill="#363940"/>
<rect x="1.3" y="0" width="1.2" height="413" fill="#3a3d44" opacity="0.5"/>
<rect x="597" y="0" width="1" height="413" fill="#3a3d44" opacity="0.45"/>
<rect x="598" y="0" width="2" height="413" fill="#363940"/>
</svg>
</body></html>
